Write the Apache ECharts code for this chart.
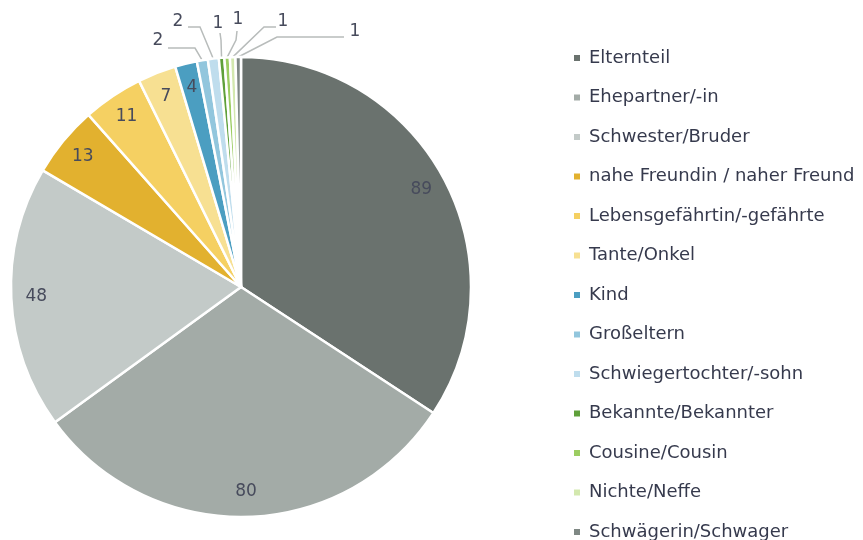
<!DOCTYPE html>
<html>
<head>
<meta charset="utf-8">
<script src="https://cdn.jsdelivr.net/npm/echarts@6/dist/echarts.min.js"></script>
<style>
  html, body { margin: 0; padding: 0; background: #fff; }
  #chart { width: 863px; height: 540px; }
</style>
</head>
<body>
<div id="chart"></div>
<script>
const categories = [
  "Elternteil", "Ehepartner/-in", "Schwester/Bruder", "nahe Freundin / naher Freund",
  "Lebensgefährtin/-gefährte", "Tante/Onkel", "Kind", "Großeltern",
  "Schwiegertochter/-sohn", "Bekannte/Bekannter", "Cousine/Cousin", "Nichte/Neffe",
  "Schwägerin/Schwager"
];
const values = [89, 80, 48, 13, 11, 7, 4, 2, 2, 1, 1, 1, 1];
const colors = [
  "#6a726e", "#a3aba7", "#c3cac8", "#e2b12f", "#f5d062", "#f7e092", "#4b9ec1",
  "#92c6dd", "#bfdded", "#5fa03a", "#9ccd62", "#d3e8ae", "#7f8884"
];

// layout of the pie and the hand-placed callouts for the tiny slices
const CENTER = [241, 287];
const RADIUS = 230;
const INSIDE_LABEL_R = 205;
const FIRST_OUTSIDE = 7;
const outsideLabels = [
  { label: [158, 41], bend: [195, 48], end: [168, 48] },
  { label: [178, 22], bend: [200, 27], end: [188, 27] },
  { label: [218, 24], bend: [221, 40], end: [220, 33] },
  { label: [238, 20], bend: [236, 40], end: [237, 31] },
  { label: [283, 22], bend: [264, 27], end: [276, 27] },
  { label: [355, 32], bend: [277, 37], end: [344, 37] }
];

const FONT = "'DejaVu Sans', Verdana, sans-serif";
const TEXT_COLOR = "#474b5c";

const chart = echarts.init(document.getElementById("chart"), null, { renderer: "canvas" });

const data = categories.map((name, i) => {
  const item = { name, value: values[i], itemStyle: { color: colors[i] } };
  if (i >= FIRST_OUTSIDE) {
    item.label = { position: "outside" };
    item.labelLine = { show: true };
  }
  return item;
});

chart.setOption({
  animation: false,
  legend: {
    orient: "vertical",
    left: 567,
    top: 43,
    height: 600,
    icon: "rect",
    itemWidth: 8,
    itemHeight: 8,
    itemGap: 19.5,
    textStyle: {
      fontFamily: FONT,
      fontSize: 18,
      color: "#363a4d",
      lineHeight: 20,
      padding: [0, 0, 0, 3]
    },
    data: categories
  },
  series: [{
    type: "pie",
    center: CENTER,
    radius: RADIUS,
    startAngle: 90,
    clockwise: true,
    avoidLabelOverlap: false,
    itemStyle: { borderColor: "#fff", borderWidth: 2.5 },
    label: {
      show: true,
      position: "inside",
      formatter: "{c}",
      fontFamily: FONT,
      fontSize: 17,
      color: TEXT_COLOR
    },
    labelLine: { show: false, lineStyle: { color: "#b8bcbb", width: 1.5 }, smooth: false },
    emphasis: { disabled: true },
    labelLayout: (params) => {
      const i = params.dataIndex;
      if (i < FIRST_OUTSIDE) {
        const r = params.labelRect;
        const dx = r.x + r.width / 2 - CENTER[0];
        const dy = r.y + r.height / 2 - CENTER[1];
        const k = INSIDE_LABEL_R / Math.hypot(dx, dy);
        return { x: CENTER[0] + dx * k, y: CENTER[1] + dy * k, align: "center", verticalAlign: "middle" };
      }
      const spot = outsideLabels[i - FIRST_OUTSIDE];
      const start = params.labelLinePoints ? params.labelLinePoints[0] : spot.bend;
      return {
        x: spot.label[0],
        y: spot.label[1],
        align: "center",
        verticalAlign: "middle",
        labelLinePoints: [start, spot.bend, spot.end]
      };
    },
    data
  }]
});
</script>
</body>
</html>
